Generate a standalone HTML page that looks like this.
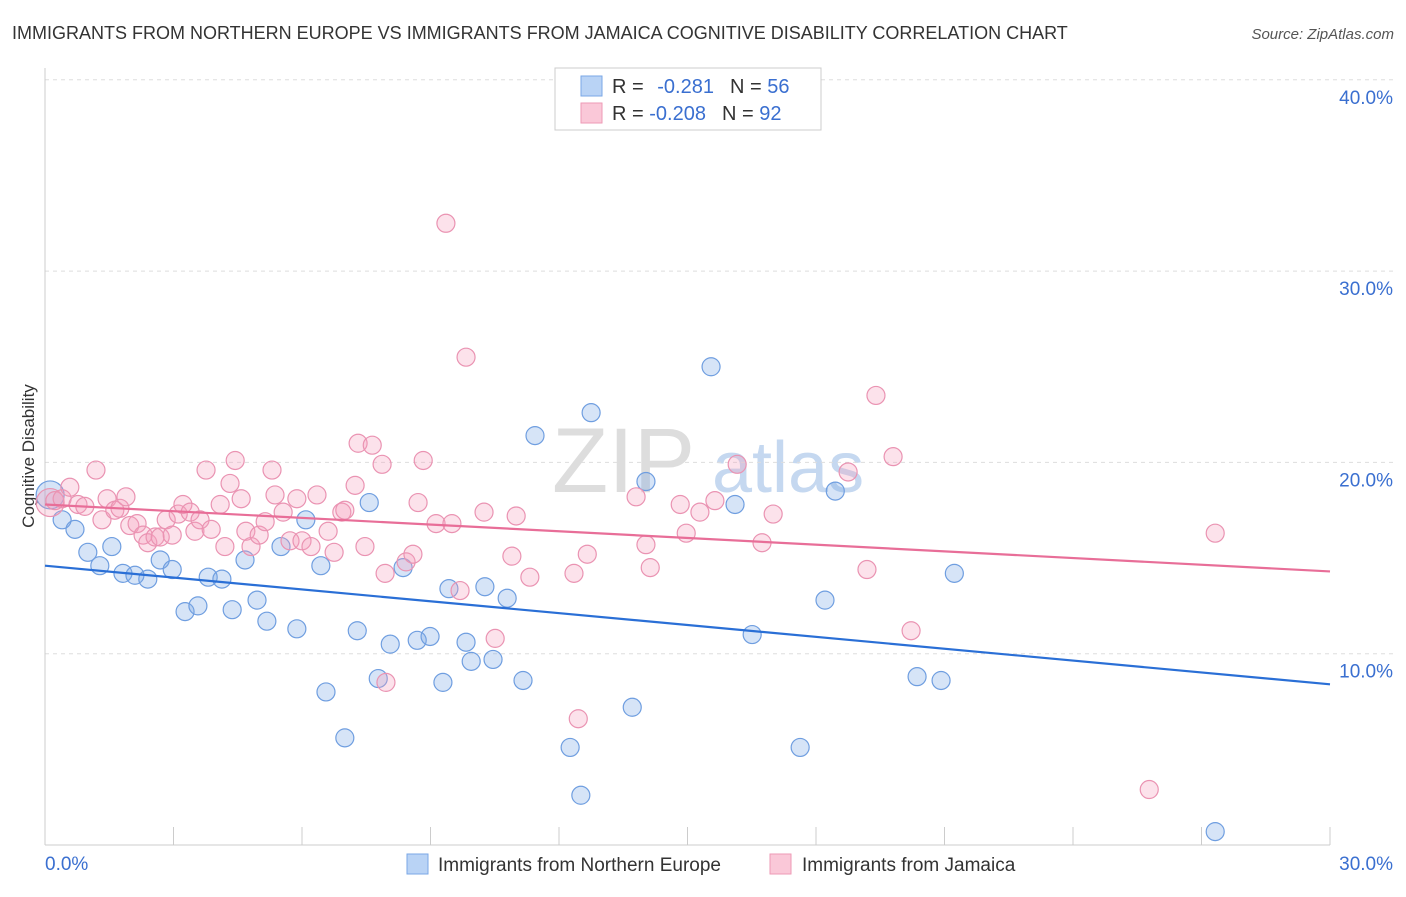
<!DOCTYPE html>
<html><head><meta charset="utf-8"><style>
body{margin:0;background:#fff;font-family:"Liberation Sans",sans-serif;}
svg text{font-family:"Liberation Sans",sans-serif;}
</style></head><body>
<svg id="chart" width="1406" height="892" xmlns="http://www.w3.org/2000/svg">
<text x="12" y="39" font-size="18" fill="#333">IMMIGRANTS FROM NORTHERN EUROPE VS IMMIGRANTS FROM JAMAICA COGNITIVE DISABILITY CORRELATION CHART</text>
<text x="1394" y="39" font-size="15" fill="#555" font-style="italic" text-anchor="end">Source: ZipAtlas.com</text>
<text transform="translate(34,456) rotate(-90)" font-size="17" fill="#333" text-anchor="middle">Cognitive Disability</text>
<g><text x="552" y="492" font-size="92" font-family="Liberation Serif" fill="#ddd">ZIP</text><text x="712" y="492" font-size="72" fill="#c5d8f0">atlas</text></g>
<g id="grid"></g><g id="marks"></g>
<g>
<rect x="555" y="68" width="266" height="62" fill="#fff" stroke="#ccc"/>
<rect x="581" y="76" width="21" height="20" fill="#b9d3f5" stroke="#7aa7e6"/>
<rect x="581" y="103" width="21" height="20" fill="#fac8d8" stroke="#ee9ab6"/>
<text x="612" y="93" font-size="20" fill="#333">R = <tspan fill="#3a6fd0" dx="8">-0.281</tspan><tspan fill="#333" dx="16">N = </tspan><tspan fill="#3a6fd0">56</tspan></text>
<text x="612" y="120" font-size="20" fill="#333">R = <tspan fill="#3a6fd0">-0.208</tspan><tspan fill="#333" dx="16">N = </tspan><tspan fill="#3a6fd0">92</tspan></text>
</g>
<g>
<rect x="407" y="854" width="21" height="20" fill="#b9d3f5" stroke="#7aa7e6"/>
<text x="438" y="871" font-size="19" fill="#333">Immigrants from Northern Europe</text>
<rect x="770" y="854" width="21" height="20" fill="#fac8d8" stroke="#ee9ab6"/>
<text x="802" y="871" font-size="19" fill="#333">Immigrants from Jamaica</text>
</g>
</svg>
<script>
const yTicks=[10,20,30,40];
const xTickLabels=["0.0%","30.0%"];
const blueX=[0.12,0.40,0.70,1.00,1.28,1.56,1.82,2.10,2.40,2.69,2.97,3.27,3.57,3.81,4.13,4.37,4.67,4.95,5.18,5.51,5.88,6.09,6.44,6.56,7.00,7.29,7.57,7.78,8.06,8.36,8.69,8.99,9.29,9.43,9.83,9.95,10.27,10.46,10.79,11.16,11.44,12.26,12.51,12.75,13.71,14.03,15.55,16.11,16.51,17.63,18.21,18.45,20.36,20.92,21.23,27.32];
const blueY=[18.3,17.0,16.5,15.3,14.6,15.6,14.2,14.1,13.9,14.9,14.4,12.2,12.5,14.0,13.9,12.3,14.9,12.8,11.7,15.6,11.3,17.0,14.6,8.0,5.6,11.2,17.9,8.7,10.5,14.5,10.7,10.9,8.5,13.4,10.6,9.6,13.5,9.7,12.9,8.6,21.4,5.1,2.6,22.6,7.2,19.0,25.0,17.8,11.0,5.1,12.8,18.5,8.8,8.6,14.2,0.7];
const pinkX=[0.12,0.23,0.40,0.58,0.77,0.93,1.19,1.33,1.45,1.63,1.75,1.89,1.98,2.15,2.29,2.40,2.57,2.69,2.83,2.97,3.11,3.22,3.39,3.50,3.62,3.76,3.88,4.09,4.20,4.32,4.44,4.58,4.69,4.81,5.00,5.14,5.30,5.37,5.56,5.72,5.88,6.00,6.21,6.35,6.61,6.75,6.93,7.00,7.24,7.31,7.47,7.64,7.87,7.94,7.96,8.43,8.59,8.71,8.83,9.13,9.36,9.50,9.69,9.83,10.25,10.51,10.90,11.00,11.32,12.35,12.45,12.66,13.80,14.03,14.13,14.83,14.97,15.29,15.64,16.16,16.74,17.00,18.75,19.19,19.40,19.80,20.22,25.78,27.32];
const pinkY=[17.9,18.0,18.1,18.7,17.8,17.7,19.6,17.0,18.1,17.5,17.6,18.2,16.7,16.8,16.2,15.8,16.1,16.1,17.0,16.2,17.3,17.8,17.4,16.4,17.0,19.6,16.5,17.8,15.6,18.9,20.1,18.1,16.4,15.6,16.2,16.9,19.6,18.3,17.4,15.9,18.1,15.9,15.6,18.3,16.4,15.3,17.4,17.5,18.8,21.0,15.6,20.9,19.9,14.2,8.5,14.8,15.2,17.9,20.1,16.8,32.5,16.8,13.3,25.5,17.4,10.8,15.1,17.2,14.0,14.2,6.6,15.2,18.2,15.7,14.5,17.8,16.3,17.4,18.0,19.9,15.8,17.3,19.5,14.4,23.5,20.3,11.2,2.9,16.3];
const blueTrend=[14.6,8.4];
const pinkTrend=[17.8,14.3];
const X=v=>45+v/30*1285;
const Y=v=>845-v*19.13;
const NS="http://www.w3.org/2000/svg";
const grid=document.getElementById('grid'),marks=document.getElementById('marks');
function mk(tag,attrs,parent){const e=document.createElementNS(NS,tag);for(const k in attrs)e.setAttribute(k,attrs[k]);parent.appendChild(e);return e;}
yTicks.forEach(t=>{
 const l=mk('line',{x1:45,x2:1394,y1:Y(t),y2:Y(t),stroke:'#ddd','stroke-dasharray':'4,4'},grid);
 
 
 const tx=mk('text',{x:1393,y:Y(t)+24,'font-size':19,fill:'#3a6fd0','text-anchor':'end'},grid);
 tx.textContent=t.toFixed(1)+'%';
 
 
});
mk('line',{x1:45,x2:45,y1:68,y2:845,stroke:'#ccc'},grid);
mk('line',{x1:45,x2:1330,y1:845,y2:845,stroke:'#ccc'},grid);
for(let i=0;i<=10;i++){const l=mk('line',{x1:X(i*3),x2:X(i*3),y1:827,y2:845,stroke:'#ccc'},grid);
 
 }
const xl0=mk('text',{x:45,y:870,'font-size':19,fill:'#3a6fd0'},grid);xl0.textContent=xTickLabels[0];


const xl1=mk('text',{x:1393,y:870,'font-size':19,fill:'#3a6fd0','text-anchor':'end'},grid);xl1.textContent=xTickLabels[1];


function pts(xs,ys,fill,stroke,name){xs.forEach((x,i)=>{const c=mk('circle',{cx:X(x),cy:Y(ys[i]),r:i===0?14:9,fill:fill,stroke:stroke,'stroke-width':1.2},marks);
 
 });}
pts(blueX,blueY,'rgba(120,165,230,0.3)','#6f9ee0','point-northern-europe');
pts(pinkX,pinkY,'rgba(245,160,190,0.3)','#ea93b2','point-jamaica');
const bl=mk('line',{x1:X(0),y1:Y(blueTrend[0]),x2:X(30),y2:Y(blueTrend[1]),stroke:'#2a6fd6','stroke-width':2.2},marks);


const pl=mk('line',{x1:X(0),y1:Y(pinkTrend[0]),x2:X(30),y2:Y(pinkTrend[1]),stroke:'#e86e98','stroke-width':2.2},marks);


</script>
</body></html>
